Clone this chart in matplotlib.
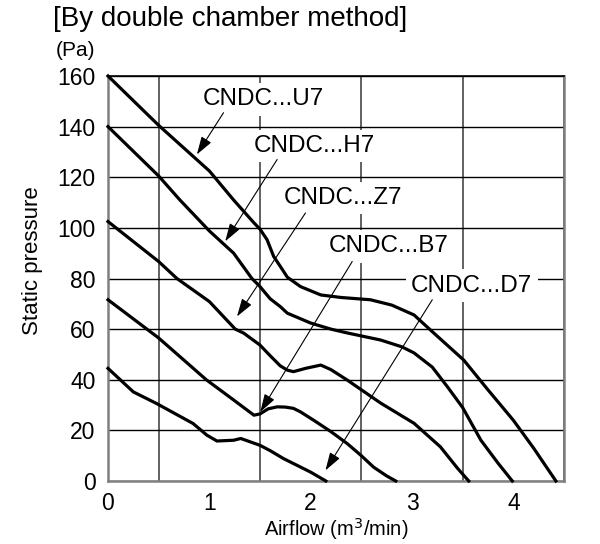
import numpy as np
import matplotlib.pyplot as plt

plt.rcParams['font.family'] = ['Liberation Sans', 'DejaVu Sans']

# fan curves (airflow m3/min, static pressure Pa)
u7_x = [0, 0.5, 1.0, 1.24, 1.44, 1.5, 1.57, 1.635, 1.7, 1.77, 1.9, 2.1, 2.3, 2.59, 2.8, 3.02, 3.2, 3.51, 3.75, 4.0, 4.2, 4.42]
u7_y = [160, 140.5, 122.5, 111, 102, 99.5, 95.3, 88.7, 84.8, 80.5, 76.8, 73.5, 72.5, 71.6, 69.5, 65.6, 59, 47.8, 36, 24, 13, 0]

h7_x = [0, 0.5, 0.71, 1.0, 1.24, 1.42, 1.5, 1.6, 1.7, 1.77, 2.0, 2.2, 2.36, 2.69, 2.9, 3.02, 3.2, 3.35, 3.5, 3.68, 3.85, 3.99]
h7_y = [140, 120.5, 111, 98.8, 90, 80, 76.8, 72, 68.9, 66.3, 62.4, 60, 58.5, 55.7, 53, 50.6, 45, 37.2, 29, 16.1, 7, 0]

z7_x = [0, 0.5, 0.68, 1.0, 1.256, 1.34, 1.5, 1.6, 1.7, 1.77, 1.83, 1.95, 2.1, 2.2, 2.36, 2.69, 3.02, 3.28, 3.45, 3.56]
z7_y = [102.5, 86.7, 80, 70.9, 60, 58.4, 53.7, 49.5, 45.5, 43.8, 43.2, 44.5, 45.8, 44, 39.9, 30.8, 22.8, 13.5, 5, 0]

b7_x = [0, 0.5, 0.97, 1.24, 1.44, 1.5, 1.58, 1.67, 1.75, 1.83, 1.9, 2.03, 2.2, 2.36, 2.5, 2.62, 2.75, 2.84]
b7_y = [71.6, 56.5, 40, 32, 26, 26.5, 28.5, 29.3, 29.2, 28.7, 27.3, 24, 19.5, 14.8, 10, 5.5, 2, 0]

d7_x = [0, 0.25, 0.48, 0.84, 0.976, 1.075, 1.24, 1.31, 1.5, 1.6, 1.73, 1.9, 2.0, 2.15]
d7_y = [44.5, 35.2, 30.6, 22.7, 18.1, 15.8, 16.1, 16.8, 14.1, 12, 8.9, 5.5, 3.5, 0]

labels = ['CNDC...U7', 'CNDC...H7', 'CNDC...Z7', 'CNDC...B7', 'CNDC...D7']
label_pos = [(1.536, 150.8), (2.036, 132.3), (2.32, 111.8), (2.77, 92.7), (3.59, 77.1)]
arrow_tail = [(1.14, 145.5), (1.669, 127), (1.949, 105.9), (2.41, 86.7), (3.20, 71.6)]
arrow_tip = [(0.877, 129), (1.157, 94.7), (1.273, 65), (1.503, 27.3), (2.146, 4.2)]

fig = plt.figure(figsize=(6, 5.44), dpi=100)
ax = fig.add_axes([0.18, 0.1158, 0.76, 0.7445])

for xs, ys in [(u7_x, u7_y), (h7_x, h7_y), (z7_x, z7_y), (b7_x, b7_y), (d7_x, d7_y)]:
    ax.plot(xs, ys, color='black', lw=2.3, solid_joinstyle='round', zorder=4, clip_on=False)

for txt, pos, tail, tip in zip(labels, label_pos, arrow_tail, arrow_tip):
    ax.annotate('', xy=tip, xytext=tail,
                arrowprops=dict(arrowstyle='-|>,head_length=1.1,head_width=0.35', mutation_scale=10,
                                lw=0.8, color='black', shrinkA=0, shrinkB=0), zorder=5)
    ax.text(pos[0], pos[1], txt, fontsize=17.5, ha='center', va='center', zorder=3,
            bbox=dict(boxstyle='square,pad=0.22', fc='white', ec='none'))

ax.set_xlim(0, 4.5)
ax.set_ylim(0, 160)
ax.set_xticks([0, 1, 2, 3, 4])
ax.set_xticks(np.arange(0, 4.51, 0.5), minor=True)
ax.set_yticks(np.arange(0, 161, 20))
ax.tick_params(which='both', length=0, labelsize=16.5)
ax.tick_params(axis='y', pad=9)
ax.tick_params(axis='x', pad=8)
ax.grid(axis='x', which='minor', color='#555555', lw=1.3)
ax.grid(axis='y', which='major', color='black', lw=1.0)
ax.set_axisbelow(True)
for side in ['left', 'bottom', 'right']:
    ax.spines[side].set_color('#808080')
    ax.spines[side].set_linewidth(1.8)
ax.spines['top'].set_color('black')
ax.spines['top'].set_linewidth(1.2)

ax.set_xlabel('Airflow (m$^3$/min)', fontsize=14.5, labelpad=1)
fig.text(0.055, 0.52, 'Static pressure', rotation=90, fontsize=16, ha='center', va='center')
fig.text(0.088, 0.965, '[By double chamber method]', fontsize=20, ha='left', va='center')
fig.text(0.093, 0.908, '(Pa)', fontsize=15, ha='left', va='center')

fig.savefig('out.png', dpi=100)
